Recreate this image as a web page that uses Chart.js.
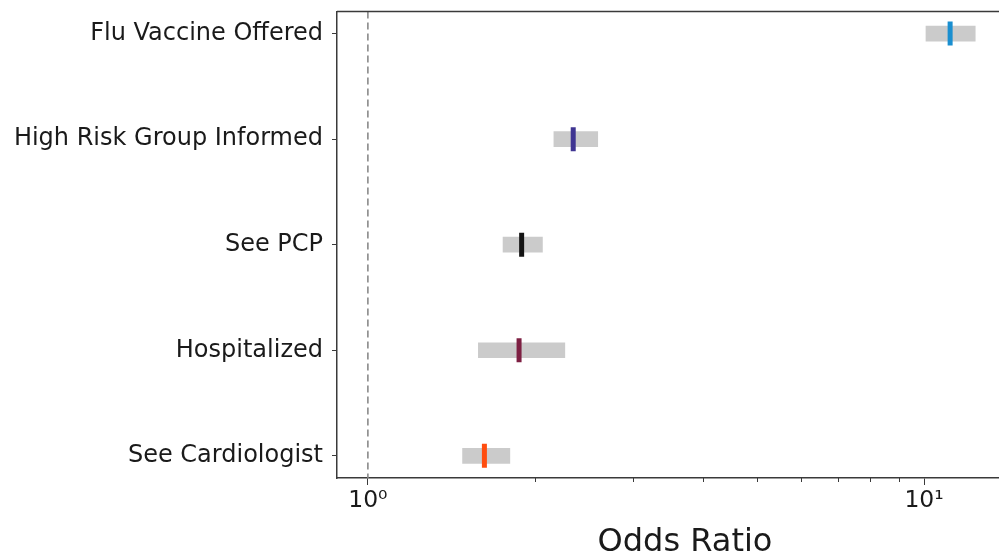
<!DOCTYPE html>
<html>
<head>
<meta charset="utf-8">
<script src="https://cdn.jsdelivr.net/npm/chart.js@4.4.0/dist/chart.umd.min.js"></script>
<style>
  html, body { margin: 0; padding: 0; background: #fff; overflow: hidden; }
  #view { width: 999px; height: 560px; overflow: hidden; }
  canvas { display: block; }
</style>
</head>
<body>
<div id="view"><canvas id="forest" width="1033" height="560"></canvas></div>
<script>
// ── Data ──────────────────────────────────────────────────
const outcomes = ['Flu Vaccine Offered', 'High Risk Group Informed', 'See PCP', 'Hospitalized', 'See Cardiologist'];
const oddsRatio = [11.14, 2.34, 1.89, 1.87, 1.62];
const ciLow  = [10.08, 2.16, 1.75, 1.58, 1.48];
const ciHigh = [12.36, 2.59, 2.06, 2.26, 1.80];
const markColors = ['#1a8fd0', '#3f3592', '#141414', '#7d1f42', '#ff4d0f'];
const majorTicks = [1, 10];
const minorTicks = [2, 3, 4, 5, 6, 7, 8, 9];
const refLine = 1;

const FONT = 'DejaVu Sans';
const AXIS = '#3a3a3a';

// ── Frame, reference line, minor ticks ────────────────────
const forestFrame = {
  id: 'forestFrame',
  beforeDatasetsDraw(chart) {
    const { ctx, chartArea: a, scales: { x } } = chart;
    const px = x.getPixelForValue(refLine);
    ctx.save();
    ctx.strokeStyle = '#8a8a8a';
    ctx.lineWidth = 1.6;
    ctx.setLineDash([7, 4]);
    ctx.beginPath();
    ctx.moveTo(px, a.top);
    ctx.lineTo(px, a.bottom);
    ctx.stroke();
    ctx.restore();
  },
  afterDraw(chart) {
    const { ctx, chartArea: a, scales: { x } } = chart;
    ctx.save();
    ctx.strokeStyle = AXIS;
    ctx.lineWidth = 1.5;
    ctx.beginPath();
    ctx.moveTo(a.left, a.top);
    ctx.lineTo(a.right, a.top);
    ctx.lineTo(a.right, a.bottom);
    ctx.stroke();
    ctx.lineWidth = 1;
    minorTicks.forEach(v => {
      const px = Math.round(x.getPixelForValue(v)) + 0.5;
      ctx.beginPath();
      ctx.moveTo(px, a.bottom);
      ctx.lineTo(px, a.bottom + 4);
      ctx.stroke();
    });
    ctx.restore();
  }
};

// ── Chart ─────────────────────────────────────────────────
new Chart(document.getElementById('forest'), {
  type: 'bar',
  data: {
    datasets: [
      {
        type: 'scatter',
        order: 0,
        data: outcomes.map((_, i) => ({ x: oddsRatio[i], y: i })),
        pointStyle: 'line',
        rotation: 90,
        radius: 12,
        hoverRadius: 12,
        borderWidth: 5,
        borderColor: markColors,
        backgroundColor: markColors
      },
      {
        type: 'bar',
        order: 1,
        data: outcomes.map((_, i) => ({ x: [ciLow[i], ciHigh[i]], y: i })),
        backgroundColor: '#cbcbcb',
        barThickness: 15,
        grouped: false
      }
    ]
  },
  options: {
    indexAxis: 'y',
    responsive: false,
    animation: false,
    layout: { autoPadding: false, padding: { top: 10, right: 0, bottom: 0, left: 0 } },
    plugins: { legend: { display: false }, tooltip: { enabled: false } },
    scales: {
      x: {
        type: 'logarithmic',
        min: 0.88,
        max: 15.7,
        offset: false,
        afterBuildTicks: s => { s.ticks = majorTicks.map(v => ({ value: v, major: true })); },
        afterFit: s => { s.height = 82; },
        ticks: {
          autoSkip: false,
          maxRotation: 0,
          padding: 2,
          color: '#1a1a1a',
          font: { family: FONT, size: 23.5 },
          callback: v => (v === 1 ? '10\u2070' : v === 10 ? '10\u00b9' : '')
        },
        grid: { drawOnChartArea: false, offset: false, tickLength: 7, tickColor: AXIS, tickWidth: 1 },
        border: { color: AXIS, width: 1.5 },
        title: {
          display: true,
          text: 'Odds Ratio',
          color: '#1a1a1a',
          font: { family: FONT, size: 32, lineHeight: 1.1 },
          padding: { top: 0, bottom: 0 }
        }
      },
      y: {
        type: 'linear',
        reverse: true,
        min: -0.21,
        max: 4.21,
        offset: false,
        afterBuildTicks: s => { s.ticks = outcomes.map((_, i) => ({ value: i })); },
        afterFit: s => { s.width = 337; },
        ticks: {
          autoSkip: false,
          padding: 9,
          color: '#1a1a1a',
          // small line height keeps the end labels from padding the plot area
          font: { family: FONT, size: 24, lineHeight: 0.2 },
          callback: v => outcomes[v]
        },
        grid: { drawOnChartArea: false, offset: false, tickLength: 5, tickColor: AXIS, tickWidth: 1 },
        border: { color: AXIS, width: 1.5 }
      }
    }
  },
  plugins: [forestFrame]
});
</script>
</body>
</html>
